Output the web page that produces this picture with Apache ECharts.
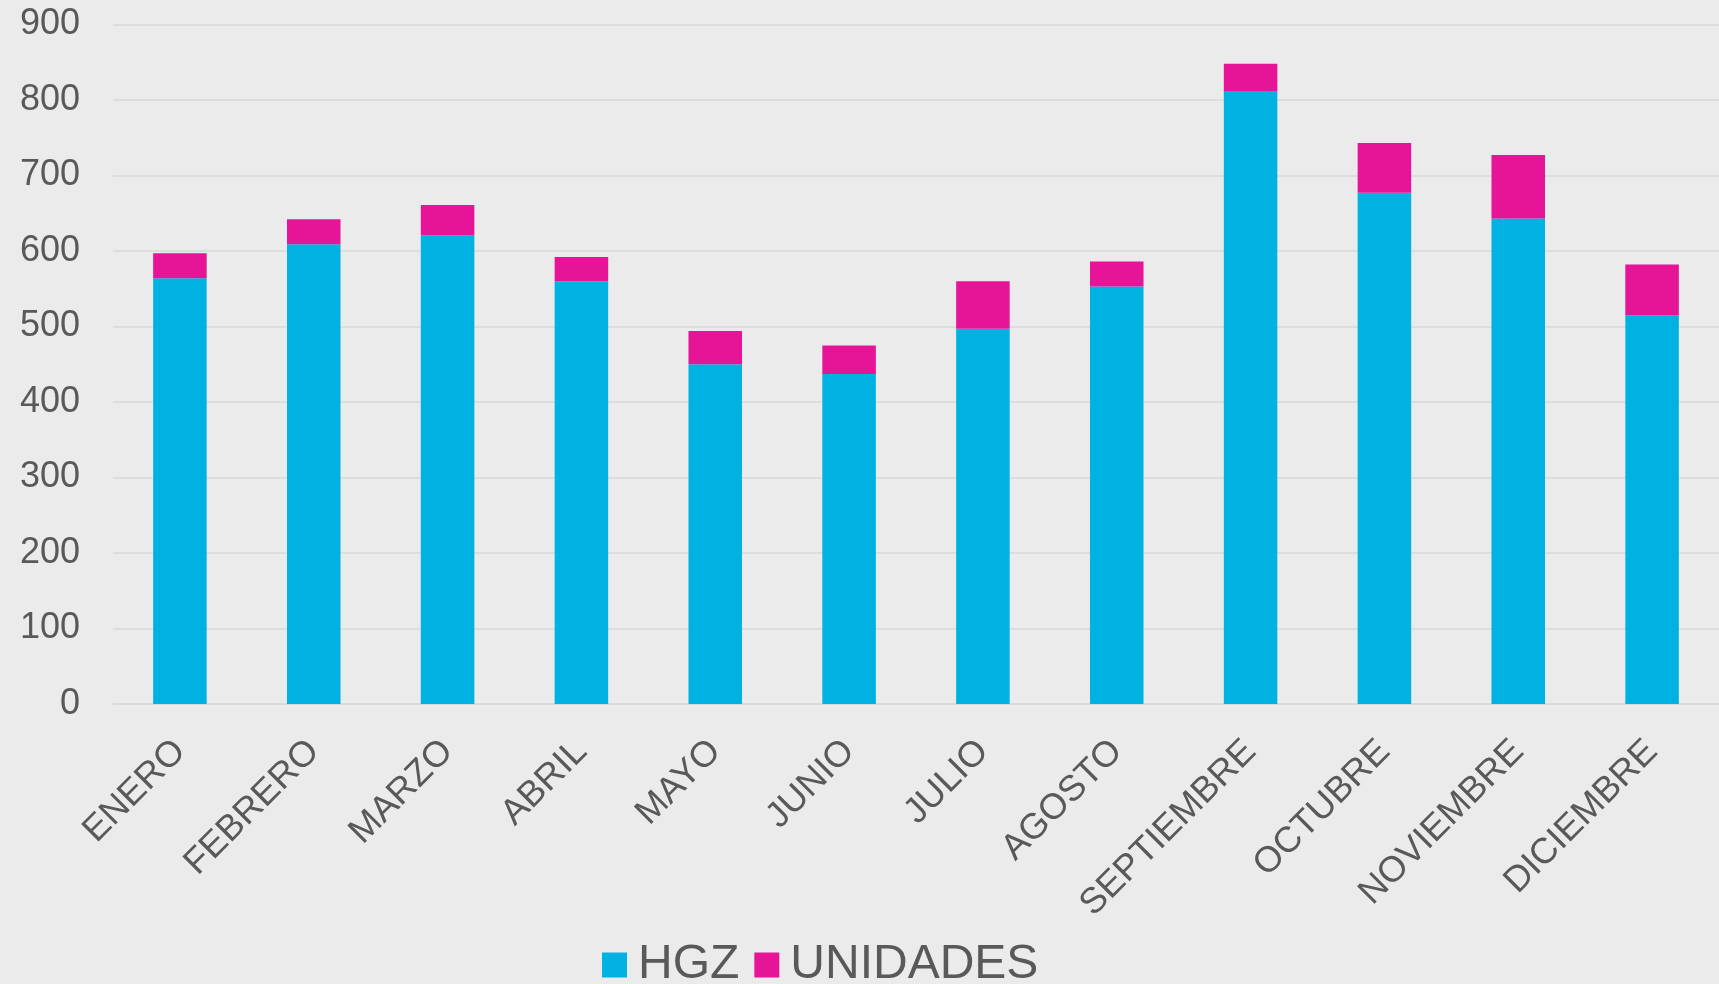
<!DOCTYPE html>
<html>
<head>
<meta charset="utf-8">
<script src="https://cdn.jsdelivr.net/npm/echarts@6/dist/echarts.min.js"></script>
<style>
  html, body { margin: 0; padding: 0; background: #ebebeb; }
  #chart { width: 1719px; height: 984px; }
</style>
</head>
<body>
<div id="chart"></div>
<script>
const meses = ["ENERO", "FEBRERO", "MARZO", "ABRIL", "MAYO", "JUNIO", "JULIO", "AGOSTO", "SEPTIEMBRE", "OCTUBRE", "NOVIEMBRE", "DICIEMBRE"];
const hgz = [564, 609, 621, 560, 450, 437, 497, 553, 812, 677, 643, 515];
const unidades = [33, 33, 40, 32, 44, 38, 63, 33, 36, 66, 84, 67];

const textColor = "#595959";
const gridColor = "#d9d9d9";

const myChart = echarts.init(document.getElementById("chart"));
myChart.setOption({
  backgroundColor: "#ebebeb",
  animation: false,
  textStyle: { fontFamily: "Liberation Sans, Arial, sans-serif" },
  grid: { left: 113, right: 0, top: 24.5, bottom: 280 },
  legend: {
    left: 597,
    top: 936,
    itemWidth: 25,
    itemHeight: 25,
    itemGap: 15,
    icon: "rect",
    textStyle: { color: textColor, fontSize: 48, padding: [0, 0, 0, 6] },
    data: ["HGZ", "UNIDADES"],
  },
  xAxis: {
    type: "category",
    data: meses,
    axisLine: { show: true, lineStyle: { color: gridColor, width: 1.5 } },
    axisTick: { show: false },
    axisLabel: {
      color: textColor,
      fontSize: 36,
      rotate: 45,
      margin: 42,
      interval: 0,
    },
  },
  yAxis: {
    type: "value",
    min: 0,
    max: 900,
    interval: 100,
    axisLine: { show: false },
    axisTick: { show: false },
    splitLine: { lineStyle: { color: gridColor, width: 1.5 } },
    axisLabel: { color: textColor, fontSize: 36, margin: 33 },
  },
  series: [
    {
      name: "HGZ",
      type: "bar",
      stack: "total",
      barWidth: "40%",
      itemStyle: { color: "#00b2e2" },
      data: hgz,
    },
    {
      name: "UNIDADES",
      type: "bar",
      stack: "total",
      itemStyle: { color: "#e61496" },
      data: unidades,
    },
  ],
});
</script>
</body>
</html>
